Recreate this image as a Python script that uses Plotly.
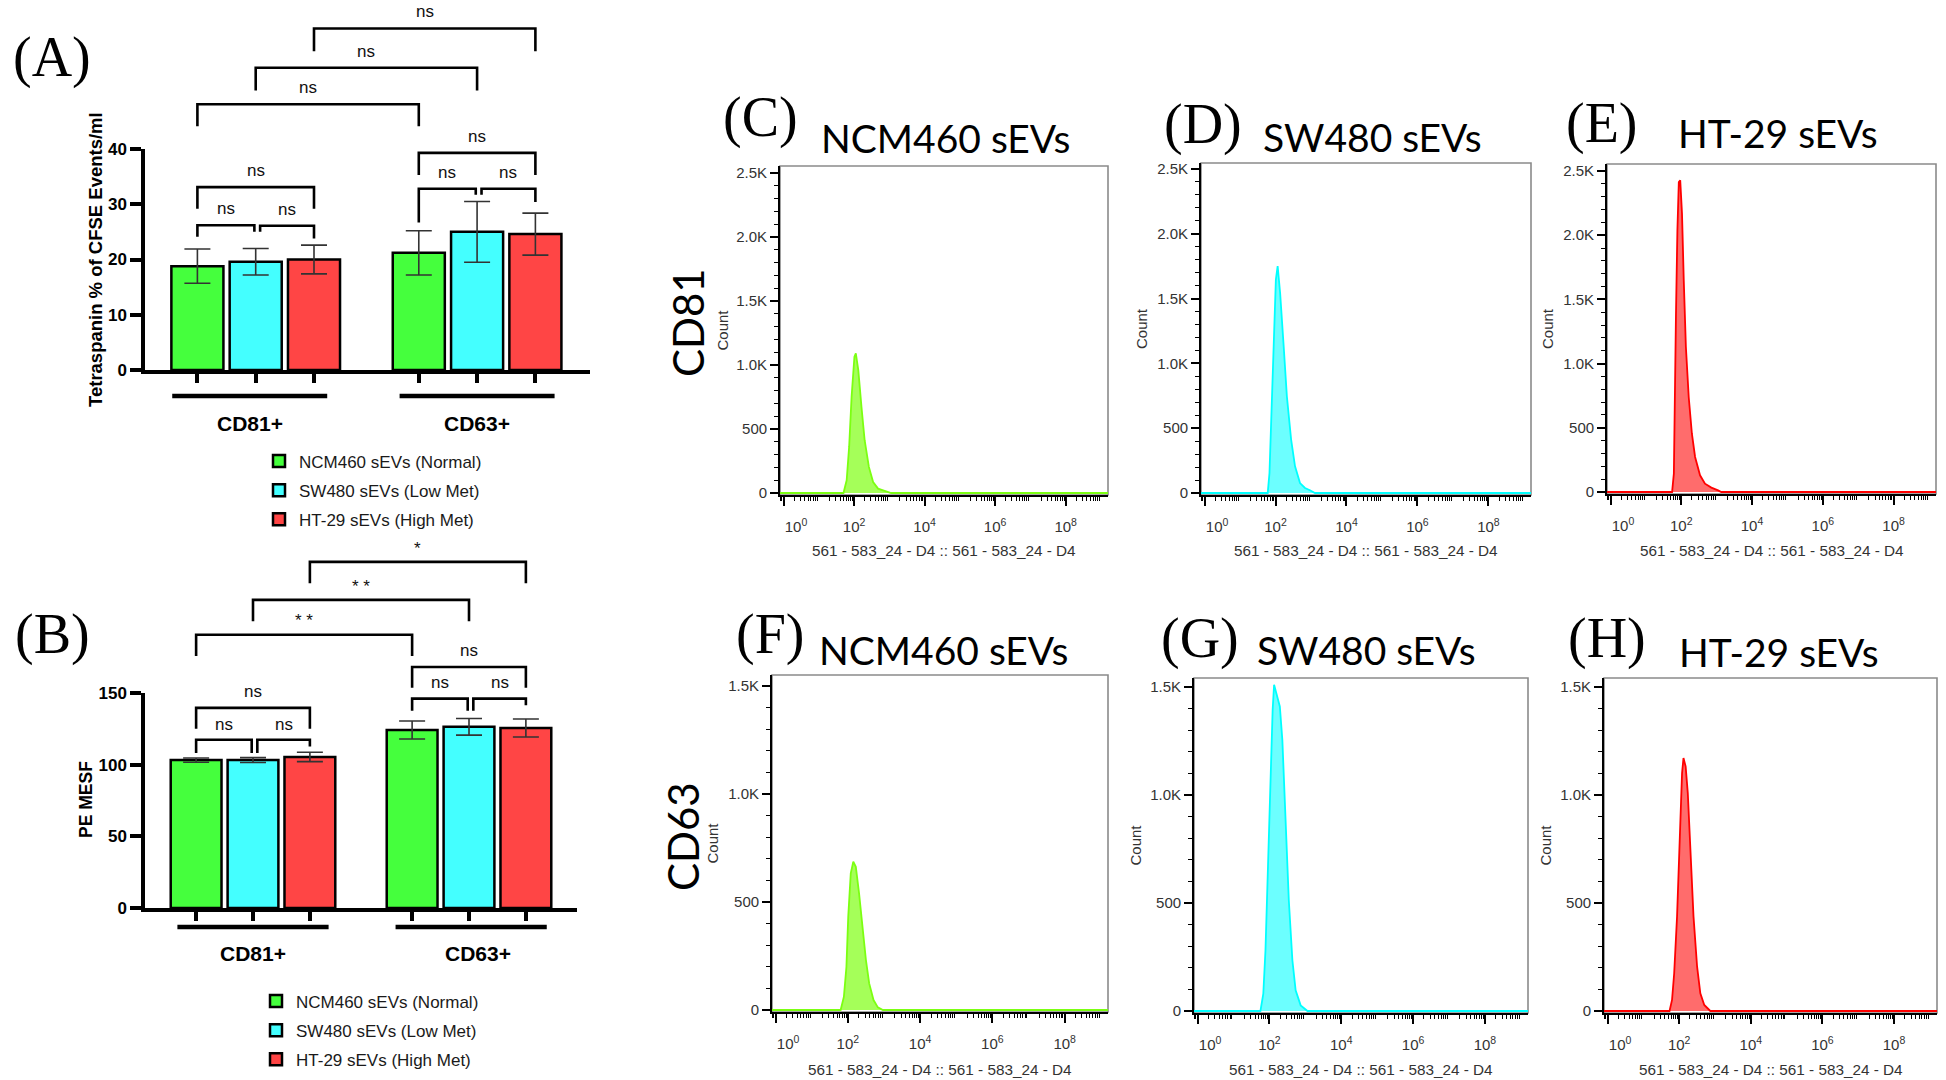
import numpy as np
import plotly.graph_objects as go

W, H = 1946, 1080
SANS = "Liberation Sans, Arial, sans-serif"
SERIF = "Liberation Serif, Times New Roman, serif"
TITLE_FONT = "Lato, Open Sans, sans-serif"


def px_x(p):
    return p / W


def px_y(p):
    return 1 - p / H


# ---------------- data: bar charts ----------------
GROUPS = ["CD81+", "CD63+"]
SERIES = ["NCM460 sEVs (Normal)", "SW480 sEVs (Low Met)", "HT-29 sEVs (High Met)"]
BAR_COLORS = ["#45FF3D", "#44FFFF", "#FF4545"]

A_NCM460 = [18.8, 21.2]
A_NCM460_SD = [3.1, 4.0]
A_SW480 = [19.6, 25.0]
A_SW480_SD = [2.4, 5.5]
A_HT29 = [20.0, 24.6]
A_HT29_SD = [2.6, 3.8]

B_NCM460 = [103.2, 124.2]
B_NCM460_SD = [1.5, 6.3]
B_SW480 = [103.2, 126.4]
B_SW480_SD = [1.7, 5.8]
B_HT29 = [105.4, 125.6]
B_HT29_SD = [3.3, 6.3]

# comparisons: (group, series) vs (group, series), label
A_COMPARISONS = [
    ((0, 0), (0, 1), "ns"), ((0, 1), (0, 2), "ns"), ((0, 0), (0, 2), "ns"),
    ((1, 0), (1, 1), "ns"), ((1, 1), (1, 2), "ns"), ((1, 0), (1, 2), "ns"),
    ((0, 0), (1, 0), "ns"), ((0, 1), (1, 1), "ns"), ((0, 2), (1, 2), "ns"),
]
B_COMPARISONS = [
    ((0, 0), (0, 1), "ns"), ((0, 1), (0, 2), "ns"), ((0, 0), (0, 2), "ns"),
    ((1, 0), (1, 1), "ns"), ((1, 1), (1, 2), "ns"), ((1, 0), (1, 2), "ns"),
    ((0, 0), (1, 0), "* *"), ((0, 1), (1, 1), "* *"), ((0, 2), (1, 2), "*"),
]

# ---------------- data: histograms (log10 intensity, count) ----------------
C_LOGX = [-0.1, 1.70, 1.79, 1.86, 1.93, 2.01, 2.05, 2.12, 2.21, 2.30, 2.42, 2.54, 2.68, 2.86, 3.05, 9.2]
C_COUNT = [0, 0, 99, 360, 752, 1065, 1091, 960, 673, 412, 204, 86, 34, 16, 0, 0]
D_LOGX = [-0.1, 1.78, 1.83, 1.88, 1.95, 2.01, 2.06, 2.13, 2.23, 2.32, 2.44, 2.55, 2.69, 2.83, 2.97, 3.11, 9.2]
D_COUNT = [0, 0, 154, 617, 1260, 1646, 1750, 1543, 1132, 746, 412, 206, 77, 39, 21, 0, 0]
E_LOGX = [-0.1, 1.74, 1.79, 1.82, 1.85, 1.89, 1.93, 1.97, 2.02, 2.07, 2.13, 2.21, 2.30, 2.39, 2.53, 2.67, 2.85, 3.04, 3.13, 9.2]
E_COUNT = [0, 0, 143, 610, 1389, 2038, 2414, 2427, 2168, 1648, 1129, 740, 454, 273, 130, 65, 34, 13, 0, 0]
F_LOGX = [-0.1, 1.80, 1.89, 1.96, 2.01, 2.08, 2.15, 2.22, 2.31, 2.40, 2.50, 2.59, 2.71, 2.83, 2.97, 9.2]
F_COUNT = [0, 0, 62, 200, 432, 633, 687, 663, 540, 386, 231, 123, 46, 12, 0, 0]
G_LOGX = [-0.1, 1.75, 1.83, 1.89, 1.96, 2.03, 2.09, 2.13, 2.22, 2.29, 2.36, 2.45, 2.54, 2.64, 2.73, 2.87, 3.06, 9.2]
G_COUNT = [0, 0, 80, 281, 668, 1132, 1394, 1510, 1456, 1410, 1255, 900, 513, 235, 96, 26, 0, 0]
H_LOGX = [-0.1, 1.73, 1.80, 1.86, 1.94, 2.01, 2.08, 2.12, 2.18, 2.24, 2.31, 2.40, 2.50, 2.59, 2.70, 2.87, 9.2]
H_COUNT = [0, 0, 51, 175, 437, 823, 1102, 1171, 1132, 1009, 746, 437, 205, 82, 28, 0, 0]

HIST_TITLES = ["NCM460 sEVs", "SW480 sEVs", "HT-29 sEVs", "NCM460 sEVs", "SW480 sEVs", "HT-29 sEVs"]
HIST_LABELS = ["(C)", "(D)", "(E)", "(F)", "(G)", "(H)"]
TOP_YTICKS = [0, 500, 1000, 1500, 2000, 2500]
TOP_YTEXT = ["0", "500", "1.0K", "1.5K", "2.0K", "2.5K"]
BOT_YTICKS = [0, 500, 1000, 1500]
BOT_YTEXT = ["0", "500", "1.0K", "1.5K"]
LABELLED_DECADES = [0, 2, 4, 6, 8]
UNLABELLED_DECADES = [1, 3, 5, 7, 9]
XAXIS_TITLE = "561 - 583_24 - D4 :: 561 - 583_24 - D4"

# ---------------- layout constants ----------------
BARGAP = 0.21
BARGROUPGAP = 0.107
SLOT = (1 - BARGAP) / 3

fig = go.Figure()
group_idx = list(range(len(GROUPS)))
annotations = []


def note(x, y, text, font, xref="paper", yref="paper", **kw):
    if xref == "paper":
        x = px_x(x)
    if yref == "paper":
        y = px_y(y)
    d = dict(x=x, y=y, xref=xref, yref=yref, text=text, showarrow=False, font=font,
             xanchor="center", yanchor="middle")
    d.update(kw)
    annotations.append(d)


def bar_center(g, s):
    return g + (s - 1) * SLOT


def ext_range(zero_px, top_px, top_val, dom_top, dom_bot):
    ppu = (zero_px - top_px) / top_val
    return [(zero_px - dom_bot) / ppu, (zero_px - dom_top) / ppu]


# ---------- panel A and B bars ----------
panels = [
    dict(xa="x", ya="y", yb="y9", legend="legend",
         vals=[A_NCM460, A_SW480, A_HT29], sds=[A_NCM460_SD, A_SW480_SD, A_HT29_SD],
         comps=A_COMPARISONS,
         geom=[(26.2, 24.1, 25.0, 29.2), (26.1, 25.0, 23.8, 29.0), (33.1, 29.2, 29.2, 36.1),
               (32.8, 26.7, 31.7, 35.8), (32.8, 31.7, 30.4, 35.8), (39.3, 35.3, 35.3, 42.3),
               (48.1, 44.1, 44.1, 51.1), (54.7, 50.6, 50.6, 57.6), (61.8, 57.7, 57.7, 64.8)],
         underline=-4.7, label_y=-9.6, ul_shift=[-0.027, 0.0], lab_shift=[-0.027, 0.0]),
    dict(xa="x2", ya="y2", yb="y10", legend="legend2",
         vals=[B_NCM460, B_SW480, B_HT29], sds=[B_NCM460_SD, B_SW480_SD, B_HT29_SD],
         comps=B_COMPARISONS,
         geom=[(117.4, 108.2, 108.2, 128.3), (117.4, 108.2, 112.6, 128.3), (139.6, 125.1, 125.1, 151.0),
               (146.1, 137.7, 137.7, 157.0), (146.1, 137.7, 141.5, 157.0), (168.1, 153.6, 153.6, 179.5),
               (190.6, 175.8, 175.8, 200.5), (215.0, 200.0, 200.0, 224.5), (241.5, 226.6, 226.6, 250.5)],
         underline=-13.3, label_y=-31.5, ul_shift=[0.0, 0.01], lab_shift=[0.0, 0.04]),
]

for pi, p in enumerate(panels):
    for s in range(3):
        fig.add_trace(go.Bar(
            x=group_idx, y=p["vals"][s], name=SERIES[s],
            marker=dict(color=BAR_COLORS[s], line=dict(color="black", width=2.5)),
            error_y=dict(type="data", array=p["sds"][s], color="#333333", thickness=1.6, width=13),
            xaxis=p["xa"], yaxis=p["ya"], legend=p["legend"],
            legendgroup=f"{pi}-{s}", hoverinfo="skip"))
    bx, by = [], []
    for c, gm in zip(p["comps"], p["geom"]):
        (g1, s1), (g2, s2), lab = c
        h, l1, l2, ty = gm
        x1 = bar_center(g1, s1)
        x2 = bar_center(g2, s2)
        if g1 == g2 and s1 == 1:
            x1 += 0.02
        if g1 == g2 and s2 == 1:
            x2 -= 0.006
        bx += [x1, x1, x2, x2, None]
        by += [l1, h, h, l2, None]
        note((x1 + x2) / 2, ty, lab, dict(family=SANS, size=17, color="#111"), xref=p["xa"], yref=p["yb"])
    fig.add_trace(go.Scatter(x=bx, y=by, mode="lines", line=dict(color="black", width=2.6),
                             xaxis=p["xa"], yaxis=p["yb"], showlegend=False, hoverinfo="skip"))
    ux, uy = [], []
    for g in group_idx:
        c0 = g + p["ul_shift"][g]
        ux += [c0 - 0.35, c0 + 0.35, None]
        uy += [p["underline"], p["underline"], None]
        note(g + p["lab_shift"][g], p["label_y"], f"<b>{GROUPS[g]}</b>",
             dict(family=SANS, size=21, color="black"), xref=p["xa"], yref=p["yb"])
    fig.add_trace(go.Scatter(x=ux, y=uy, mode="lines", line=dict(color="black", width=4.5),
                             xaxis=p["xa"], yaxis=p["yb"], showlegend=False, hoverinfo="skip"))

bar_ticks = [bar_center(g, s) for g in group_idx for s in range(3)]

# ---------- histograms ----------
hist_data = [(C_LOGX, C_COUNT), (D_LOGX, D_COUNT), (E_LOGX, E_COUNT),
             (F_LOGX, F_COUNT), (G_LOGX, G_COUNT), (H_LOGX, H_COUNT)]
hist_line = ["#7CFF12", "#00FFFF", "#FF0000"] * 2
hist_fill = ["rgba(160,255,80,0.95)", "rgba(100,255,255,0.95)", "rgba(255,100,100,0.95)"] * 2
for i, (hx, hy) in enumerate(hist_data):
    k = i + 3
    fig.add_trace(go.Scatter(x=hx, y=hy, mode="lines", fill="tozeroy",
                             line=dict(color=hist_line[i], width=1.8), fillcolor=hist_fill[i],
                             xaxis=f"x{k}", yaxis=f"y{k}", showlegend=False, hoverinfo="skip"))

layout = dict(
    width=W, height=H, margin=dict(l=0, r=0, t=0, b=0, autoexpand=False),
    paper_bgcolor="white", plot_bgcolor="rgba(0,0,0,0)",
    barmode="group", bargap=BARGAP, bargroupgap=BARGROUPGAP,
    showlegend=True,
)

layout["xaxis"] = dict(domain=[px_x(145), px_x(590)], range=[-0.5, 1.51], anchor="y",
                       showline=True, linecolor="black", linewidth=3.5, showgrid=False, zeroline=False,
                       tickmode="array", tickvals=bar_ticks, ticks="outside", ticklen=9, tickwidth=3.5,
                       tickcolor="black", showticklabels=False)
layout["yaxis"] = dict(domain=[px_y(370), px_y(149)], range=[0, 40], anchor="x",
                       showline=True, linecolor="black", linewidth=3.5, showgrid=False, zeroline=False,
                       tickmode="array", tickvals=[0, 10, 20, 30, 40], ticks="outside", ticklen=11,
                       tickwidth=3.5, tickcolor="black",
                       tickfont=dict(family=SANS, size=17, color="black", weight="bold"))
layout["yaxis9"] = dict(domain=[px_y(440), px_y(0)], range=ext_range(370, 149, 40, 0, 440),
                        anchor="x", visible=False, showgrid=False, zeroline=False)
layout["xaxis2"] = dict(domain=[px_x(145), px_x(577)], range=[-0.5, 1.5], anchor="y2",
                        showline=True, linecolor="black", linewidth=3.5, showgrid=False, zeroline=False,
                        tickmode="array", tickvals=bar_ticks, ticks="outside", ticklen=9, tickwidth=3.5,
                        tickcolor="black", showticklabels=False)
layout["yaxis2"] = dict(domain=[px_y(908), px_y(693)], range=[0, 150], anchor="x2",
                        showline=True, linecolor="black", linewidth=3.5, showgrid=False, zeroline=False,
                        tickmode="array", tickvals=[0, 50, 100, 150], ticks="outside", ticklen=11,
                        tickwidth=3.5, tickcolor="black",
                        tickfont=dict(family=SANS, size=17, color="black", weight="bold"))
layout["yaxis10"] = dict(domain=[px_y(975), px_y(530)], range=ext_range(908, 693, 150, 530, 975),
                         anchor="x2", visible=False, showgrid=False, zeroline=False)

leg_common = dict(xanchor="left", yanchor="top", font=dict(family=SANS, size=17, color="#1a1a1a"),
                  bgcolor="rgba(0,0,0,0)", itemwidth=30, tracegroupgap=4, traceorder="grouped")
layout["legend"] = dict(x=px_x(259), y=px_y(443.5), **leg_common)
layout["legend2"] = dict(x=px_x(256), y=px_y(983.5), **leg_common)

note(96, 260, "<b>Tetraspanin % of CFSE Events/ml</b>", dict(family=SANS, size=18.5, color="black"), textangle=-90)
note(86, 800, "<b>PE MESF</b>", dict(family=SANS, size=17.5, color="black"), textangle=-90)
note(52, 58, "(A)", dict(family=SERIF, size=56, color="black"))
note(52, 635, "(B)", dict(family=SERIF, size=56, color="black"))

# histogram panel geometry: x0, x1, dom_top, dom_bot, zero_px, top_tick_px
HGEOM = [
    (780, 1108, 166, 495, 493, 173),
    (1201, 1531, 163, 495, 493, 169),
    (1607, 1936, 164, 494, 492, 171),
    (772, 1108, 675, 1012, 1010, 686),
    (1194, 1528, 678, 1013, 1011, 687),
    (1604, 1937, 678, 1013, 1011, 687),
]
LABEL_POS = [(760, 117), (1203, 125), (1602, 123), (770, 635), (1200, 638), (1607, 638)]
TITLE_POS = [(945, 138), (1372, 137), (1778, 133), (943, 650), (1366, 650), (1779, 652)]
COUNT_X = [722, 1142, 1548, 712, 1135, 1545]
XTITLE_Y = [550, 550, 550, 1069, 1069, 1069]

minor_x = [d + np.log10(m) for d in range(-1, 10) for m in range(2, 10)]
minor_x = [v for v in minor_x if -0.1 <= v <= 9.2]
xt_text = [("&nbsp;" * 6 if d == 0 else "") + f"10<sup>{d}</sup>" for d in LABELLED_DECADES]

shapes = []
for i, (x0, x1, dt, db, zp, tp) in enumerate(HGEOM):
    k = i + 3
    top_row = i < 3
    yt = TOP_YTICKS if top_row else BOT_YTICKS
    ytx = TOP_YTEXT if top_row else BOT_YTEXT
    layout[f"xaxis{k}"] = dict(domain=[px_x(x0), px_x(x1)], range=[-0.1, 9.2], anchor=f"y{k}",
                               showline=True, linecolor="black", linewidth=1.8, showgrid=False, zeroline=False,
                               tickmode="array", tickvals=LABELLED_DECADES, ticktext=xt_text, ticks="outside",
                               ticklen=9, tickwidth=1.6, tickcolor="black", ticklabelstandoff=8,
                               tickfont=dict(family=SANS, size=15, color="#333"),
                               minor=dict(tickmode="array", tickvals=minor_x, ticks="outside", ticklen=4,
                                          tickwidth=1.2, tickcolor="black", showgrid=False))
    layout[f"xaxis{k + 8}"] = dict(domain=[px_x(x0), px_x(x1)], range=[-0.1, 9.2], anchor=f"y{k}",
                                   overlaying=f"x{k}", side="bottom", showline=False, showgrid=False,
                                   zeroline=False, tickmode="array", tickvals=UNLABELLED_DECADES,
                                   ticks="outside", ticklen=9, tickwidth=1.6, tickcolor="black",
                                   showticklabels=False)
    layout[f"yaxis{k}"] = dict(domain=[px_y(db), px_y(dt)], range=ext_range(zp, tp, yt[-1], dt, db),
                               anchor=f"x{k}", showline=True, linecolor="black", linewidth=1.8,
                               showgrid=False, zeroline=False, tickmode="array", tickvals=yt, ticktext=ytx,
                               ticks="outside", ticklen=8, tickwidth=1.6, tickcolor="black",
                               tickfont=dict(family=SANS, size=15, color="#333"),
                               minor=dict(dtick=100, tick0=0, ticks="outside", ticklen=4, tickwidth=1.2,
                                          tickcolor="black", showgrid=False))
    shapes.append(dict(type="rect", xref=f"x{k} domain", yref=f"y{k} domain", x0=0, x1=1, y0=0, y1=1,
                       line=dict(color="#8a8a8a", width=1.6), layer="below"))
    note(LABEL_POS[i][0], LABEL_POS[i][1], HIST_LABELS[i], dict(family=SERIF, size=56, color="black"))
    note(TITLE_POS[i][0], TITLE_POS[i][1], HIST_TITLES[i], dict(family=TITLE_FONT, size=39, color="black"))
    note(COUNT_X[i], (dt + db) / 2, "Count", dict(family=SANS, size=15, color="#333"), textangle=-90)
    note((x0 + x1) / 2, XTITLE_Y[i], XAXIS_TITLE, dict(family=SANS, size=15.3, color="#333"))

note(688, 323, "CD81", dict(family=TITLE_FONT, size=42, color="black"), textangle=-90)
note(683, 837, "CD63", dict(family=TITLE_FONT, size=42, color="black"), textangle=-90)

layout["annotations"] = annotations
layout["shapes"] = shapes
fig.update_layout(**layout)
fig.write_html("out.html", config={"displayModeBar": False},
               post_script="document.body.style.margin='0px';document.body.style.overflow='hidden';")
